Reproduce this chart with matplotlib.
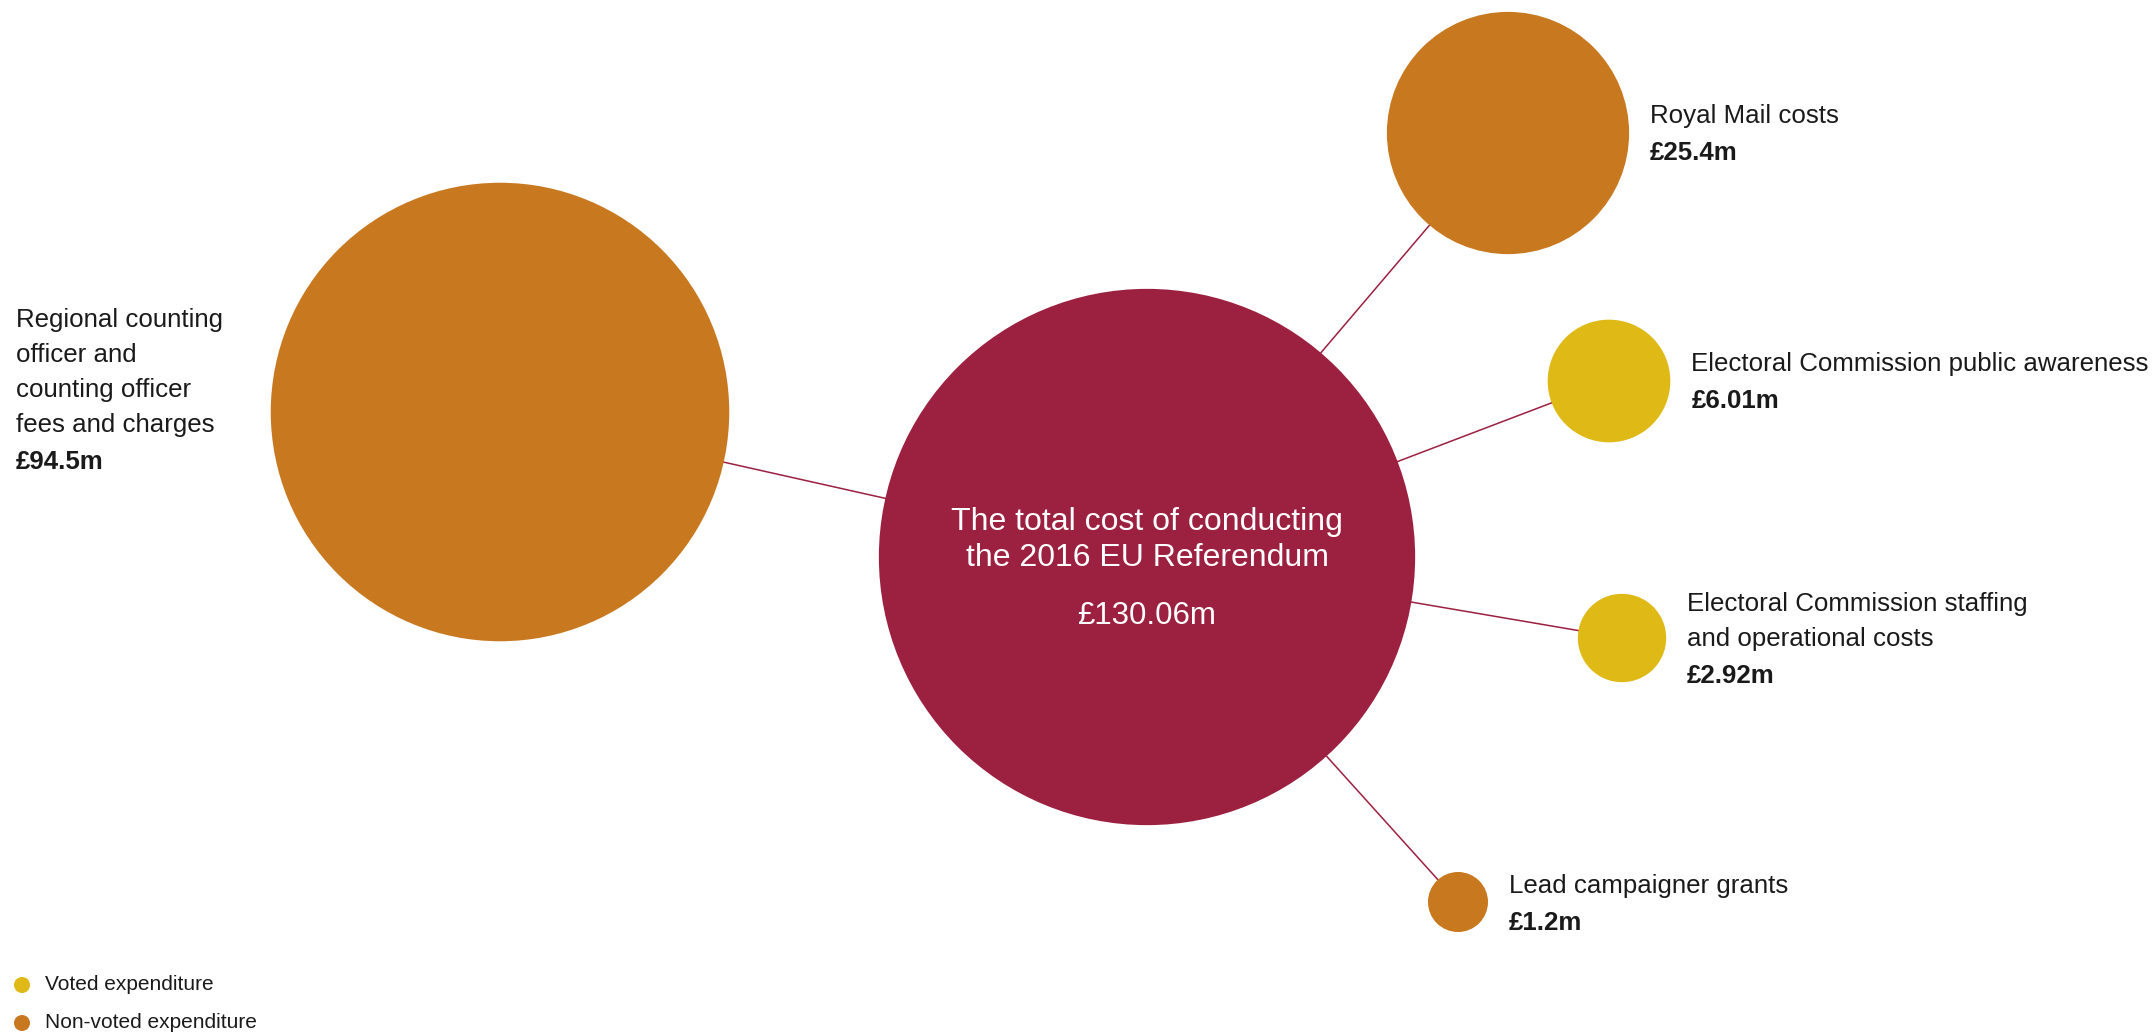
#!/usr/bin/env python3
"""
Cost of the 2016 EU Referendum as a bubble diagram:
one total bubble in the middle, spending lines around it,
bubble area scaled from the amount.
"""

import matplotlib
matplotlib.use("Agg")
import matplotlib.pyplot as plt
from matplotlib.patches import Circle
import numpy as np

# ------------------------------- data -------------------------------
TOTAL_LABEL = ["The total cost of conducting", "the 2016 EU Referendum"]
TOTAL_VALUE = 130.06

ITEM_NAMES = [
    ["Regional counting", "officer and", "counting officer", "fees and charges"],
    ["Royal Mail costs"],
    ["Electoral Commission public awareness"],
    ["Electoral Commission staffing", "and operational costs"],
    ["Lead campaigner grants"],
]
ITEM_VALUES = [94.5, 25.4, 6.01, 2.92, 1.2]
ITEM_VOTED = [False, False, True, True, False]

LEGEND_LABELS = ["Voted expenditure", "Non-voted expenditure"]

# ------------------------------ layout ------------------------------
W, H = 2156, 1034
DPI = 100
CENTRE = (1147, 557)
ITEM_POS = [(500, 412), (1508, 133), (1609, 381), (1622, 638), (1458, 902)]
R_SCALE, R_MIN = 23.1, 4.7          # radius = R_SCALE * sqrt(value) + R_MIN

COL_TOTAL = "#9C2040"
COL_NONVOTED = "#C87920"
COL_VOTED = "#DFB916"
COL_TEXT = "#1a1a1a"

FONT = "Liberation Sans"
LABEL_FS = 18.6
LINE_STEP = 35
VALUE_STEP = 37


def radius(v):
    return R_SCALE * np.sqrt(v) + R_MIN


def fmt(v):
    return f"£{v:g}m"


def main():
    plt.rcParams["font.family"] = [FONT, "DejaVu Sans"]
    fig = plt.figure(figsize=(W / DPI, H / DPI), dpi=DPI)
    ax = fig.add_axes([0, 0, 1, 1])
    ax.set_xlim(0, W)
    ax.set_ylim(H, 0)
    ax.set_aspect("equal")
    ax.axis("off")

    # connector lines, centre to centre, under the bubbles
    for (x, y) in ITEM_POS:
        ax.plot([CENTRE[0], x], [CENTRE[1], y], color=COL_TOTAL, lw=1.1, zorder=1)

    ax.add_patch(Circle(CENTRE, radius(TOTAL_VALUE), color=COL_TOTAL, lw=0, zorder=2))
    for (x, y), v, voted in zip(ITEM_POS, ITEM_VALUES, ITEM_VOTED):
        ax.add_patch(Circle((x, y), radius(v), color=COL_VOTED if voted else COL_NONVOTED,
                            lw=0, zorder=2))

    # text inside the total bubble
    cx, cy = CENTRE
    ax.text(cx, cy - 35, TOTAL_LABEL[0], color="white", fontsize=23,
            ha="center", va="center", zorder=3)
    ax.text(cx, cy + 1, TOTAL_LABEL[1], color="white", fontsize=23,
            ha="center", va="center", zorder=3)
    ax.text(cx, cy + 59, fmt(TOTAL_VALUE), color="white", fontsize=22.5,
            ha="center", va="center", zorder=3)

    # side labels: left one sits in the margin, the rest to the right of the bubble
    for i, ((x, y), names, v) in enumerate(zip(ITEM_POS, ITEM_NAMES, ITEM_VALUES)):
        n = len(names)
        block = (n - 1) * LINE_STEP + VALUE_STEP
        if i == 0:
            tx, top = 16, 320
        else:
            tx, top = x + radius(v) + 21, y - block / 2 + 2
        for k, line in enumerate(names):
            ax.text(tx, top + k * LINE_STEP, line, fontsize=LABEL_FS, color=COL_TEXT,
                    ha="left", va="center")
        ax.text(tx, top + (n - 1) * LINE_STEP + VALUE_STEP, fmt(v), fontsize=LABEL_FS,
                fontweight="bold", color=COL_TEXT, ha="left", va="center")

    # legend
    for k, (lab, col) in enumerate(zip(LEGEND_LABELS, [COL_VOTED, COL_NONVOTED])):
        yy = 985 + k * 38
        ax.add_patch(Circle((22, yy), 8, color=col, lw=0))
        ax.text(45, yy, lab, fontsize=15, color=COL_TEXT, ha="left", va="center")

    fig.savefig("out.png", dpi=DPI)


if __name__ == "__main__":
    main()
